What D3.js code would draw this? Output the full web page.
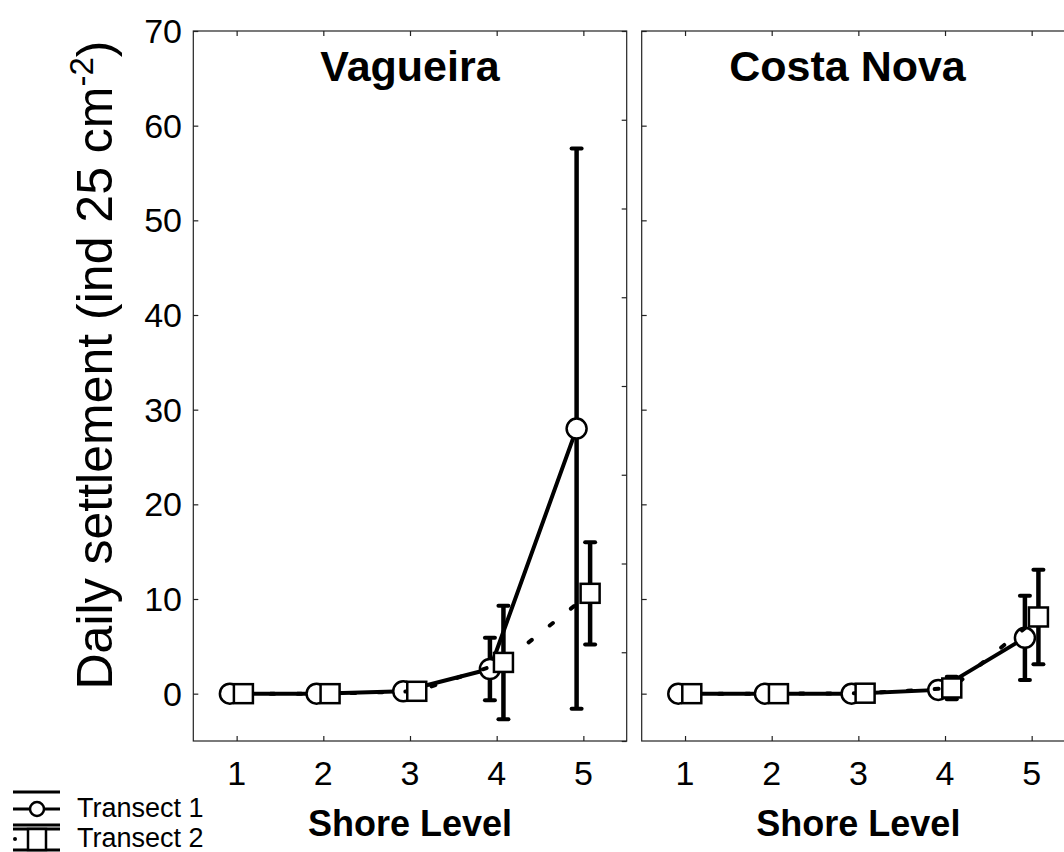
<!DOCTYPE html>
<html>
<head>
<meta charset="utf-8">
<script src="https://cdn.jsdelivr.net/npm/d3@7"></script>
<style>
    body { margin: 0; background: #fff; }
    svg { display: block; font-family: "Liberation Sans", Arial, sans-serif; }
</style>
</head>
<body>
<div id="chart"></div>
<script>
// shore levels and tick values
let levels = [1, 2, 3, 4, 5];
let yTicks = [0, 10, 20, 30, 40, 50, 60, 70];
let rightTicks = [0, 1, 2, 3, 4, 5, 6, 7, 8];
let panel_names = ["Vagueira", "Costa Nova"];
let series_names = ["Transect 1", "Transect 2"];

// Vagueira, mean and error (ind 25 cm-2)
let vag_t1 = [0, 0, 0.25, 2.6, 28.0];
let vag_t1_err = [0, 0, 0.1, 3.3, 29.6];
let vag_t2 = [0, 0, 0.25, 3.3, 10.6];
let vag_t2_err = [0, 0, 0.1, 6.0, 5.4];

// Costa Nova
let nov_t1 = [0, 0, 0, 0.4, 5.9];
let nov_t1_err = [0, 0, 0, 0.2, 4.45];
let nov_t2 = [0, 0, 0.05, 0.6, 8.1];
let nov_t2_err = [0, 0, 0.05, 1.2, 5.0];

let width = 1064, height = 852;
let top_y = 31, bottom_y = 741;
let panels = [
    {name: panel_names[0], left: 193.3, right: 626.7, title_x: 3.0, t1: vag_t1, t1e: vag_t1_err, t2: vag_t2, t2e: vag_t2_err, labels: true},
    {name: panel_names[1], left: 641.7, right: 1075, title_x: 2.875, t1: nov_t1, t1e: nov_t1_err, t2: nov_t2, t2e: nov_t2_err, labels: false}
];

let svg = d3.select("#chart").append("svg")
    .attr("width", width)
    .attr("height", height);

let yScale = d3.scaleLinear().domain([-5, 70]).range([bottom_y, top_y]);
let yRight = d3.scaleLinear().domain([0, 8]).range([bottom_y, top_y]);

let offset = 0.078;

panels.forEach(function (p) {
    let xScale = d3.scaleLinear().domain([0.5, 5.5]).range([p.left, p.right]);
    let g = svg.append("g");

    // frame
    g.append("rect")
        .attr("x", p.left).attr("y", top_y)
        .attr("width", p.right - p.left).attr("height", bottom_y - top_y)
        .style("fill", "none").style("stroke", "#222").style("stroke-width", 1.2);

    // inner ticks
    let left_axis = g.append("g").attr("transform", "translate(" + p.left + ",0)")
        .call(d3.axisRight(yScale).tickValues(yTicks).tickSize(5).tickFormat(""));
    let right_axis = g.append("g").attr("transform", "translate(" + p.right + ",0)")
        .call(d3.axisLeft(yRight).tickValues(rightTicks).tickSize(5).tickFormat(""));
    let bot_axis = g.append("g").attr("transform", "translate(0," + bottom_y + ")")
        .call(d3.axisTop(xScale).tickValues(levels).tickSize(5).tickFormat(""));
    let top_axis = g.append("g").attr("transform", "translate(0," + top_y + ")")
        .call(d3.axisBottom(xScale).tickValues(levels).tickSize(5).tickFormat(""));
    [left_axis, right_axis, bot_axis, top_axis].forEach(function (a) {
        a.select(".domain").remove();
        a.selectAll("line").style("stroke", "#222").style("stroke-width", 1.2);
    });

    // tick labels
    if (p.labels) {
        g.selectAll(".ylab").data(yTicks).enter().append("text")
            .attr("x", 182).attr("y", function (d) { return yScale(d) + 12; })
            .attr("text-anchor", "end")
            .style("font-size", "34px")
            .text(function (d) { return d; });
    }
    g.selectAll(".xlab").data(levels).enter().append("text")
        .attr("x", function (d) { return xScale(d); }).attr("y", 785)
        .attr("text-anchor", "middle")
        .style("font-size", "34px")
        .text(function (d) { return d; });

    g.append("text")
        .attr("x", xScale(3)).attr("y", 836)
        .attr("text-anchor", "middle")
        .style("font-size", "36px").style("font-weight", "bold")
        .text("Shore Level");

    g.append("text")
        .attr("x", xScale(p.title_x)).attr("y", 81)
        .attr("text-anchor", "middle")
        .style("font-size", "43px").style("font-weight", "bold")
        .text(p.name);

    // clip the data to the frame
    let clip_id = "clip_" + p.name.replace(" ", "_");
    svg.append("clipPath").attr("id", clip_id).append("rect")
        .attr("x", p.left).attr("y", 0).attr("width", Math.min(p.right, width) - p.left).attr("height", height);
    let plot = g.append("g").attr("clip-path", "url(#" + clip_id + ")");

    let sets = [
        {vals: p.t1, errs: p.t1e, dx: -offset, marker: "circle", dash: null},
        {vals: p.t2, errs: p.t2e, dx: offset, marker: "square", dash: "4,23"}
    ];
    sets.forEach(function (s) {
        let data = levels.map(function (l, i) { return {x: l + s.dx, y: s.vals[i], e: s.errs[i]}; });
        let line = d3.line()
            .x(function (d) { return xScale(d.x); })
            .y(function (d) { return yScale(d.y); });
        let path = plot.append("path")
            .datum(data)
            .attr("d", line)
            .style("fill", "none")
            .style("stroke", "#000")
            .style("stroke-width", 4)
            .style("stroke-linecap", "round");
        if (s.dash) path.style("stroke-dasharray", s.dash);

        // error bars
        plot.selectAll(null).data(data).enter().append("line")
            .attr("x1", function (d) { return xScale(d.x); })
            .attr("x2", function (d) { return xScale(d.x); })
            .attr("y1", function (d) { return yScale(d.y - d.e); })
            .attr("y2", function (d) { return yScale(d.y + d.e); })
            .style("stroke", "#000").style("stroke-width", 4.5);
        [-1, 1].forEach(function (sign) {
            plot.selectAll(null).data(data).enter().append("line")
                .attr("x1", function (d) { return xScale(d.x) - 5; })
                .attr("x2", function (d) { return xScale(d.x) + 5; })
                .attr("y1", function (d) { return yScale(d.y + sign * d.e); })
                .attr("y2", function (d) { return yScale(d.y + sign * d.e); })
                .style("stroke", "#000").style("stroke-width", 4)
                .style("stroke-linecap", "round");
        });

        // markers
        if (s.marker == "circle") {
            plot.selectAll(null).data(data).enter().append("circle")
                .attr("cx", function (d) { return xScale(d.x); })
                .attr("cy", function (d) { return yScale(d.y); })
                .attr("r", 10)
                .style("fill", "#fff").style("stroke", "#000").style("stroke-width", 2.5);
        } else {
            plot.selectAll(null).data(data).enter().append("rect")
                .attr("x", function (d) { return xScale(d.x) - 9.5; })
                .attr("y", function (d) { return yScale(d.y) - 9.5; })
                .attr("width", 19).attr("height", 19)
                .style("fill", "#fff").style("stroke", "#000").style("stroke-width", 2.5);
        }
    });
});

// y axis label
svg.append("text")
    .attr("transform", "translate(112,365) rotate(-90)")
    .attr("text-anchor", "middle")
    .style("font-size", "50px")
    .html("Daily settlement (ind 25 cm<tspan dy='-19' font-size='33px'>-2</tspan><tspan dy='19'>)</tspan>");

// legend
let legend = svg.append("g");
let rows = [
    {label: series_names[0], marker: "circle", y: 809, top: 792, bot: 825},
    {label: series_names[1], marker: "square", y: 839, top: 829, bot: 850}
];
rows.forEach(function (r) {
    legend.append("line").attr("x1", 13).attr("x2", 60).attr("y1", r.top).attr("y2", r.top)
        .style("stroke", "#000").style("stroke-width", 3);
    legend.append("line").attr("x1", 13).attr("x2", 60).attr("y1", r.bot).attr("y2", r.bot)
        .style("stroke", "#000").style("stroke-width", 3);
    if (r.marker == "circle") {
        legend.append("line").attr("x1", 13).attr("x2", 60).attr("y1", r.y).attr("y2", r.y)
            .style("stroke", "#000").style("stroke-width", 3);
        legend.append("circle").attr("cx", 37).attr("cy", r.y).attr("r", 7)
            .style("fill", "#fff").style("stroke", "#000").style("stroke-width", 2.5);
    } else {
        legend.append("circle").attr("cx", 15).attr("cy", r.y).attr("r", 2);
        legend.append("rect").attr("x", 28).attr("y", r.top).attr("width", 18).attr("height", r.bot - r.top)
            .style("fill", "#fff").style("stroke", "#000").style("stroke-width", 2.5);
    }
    legend.append("text")
        .attr("x", 77).attr("y", r.y + 8)
        .style("font-size", "27px")
        .text(r.label);
});
</script>
</body>
</html>
